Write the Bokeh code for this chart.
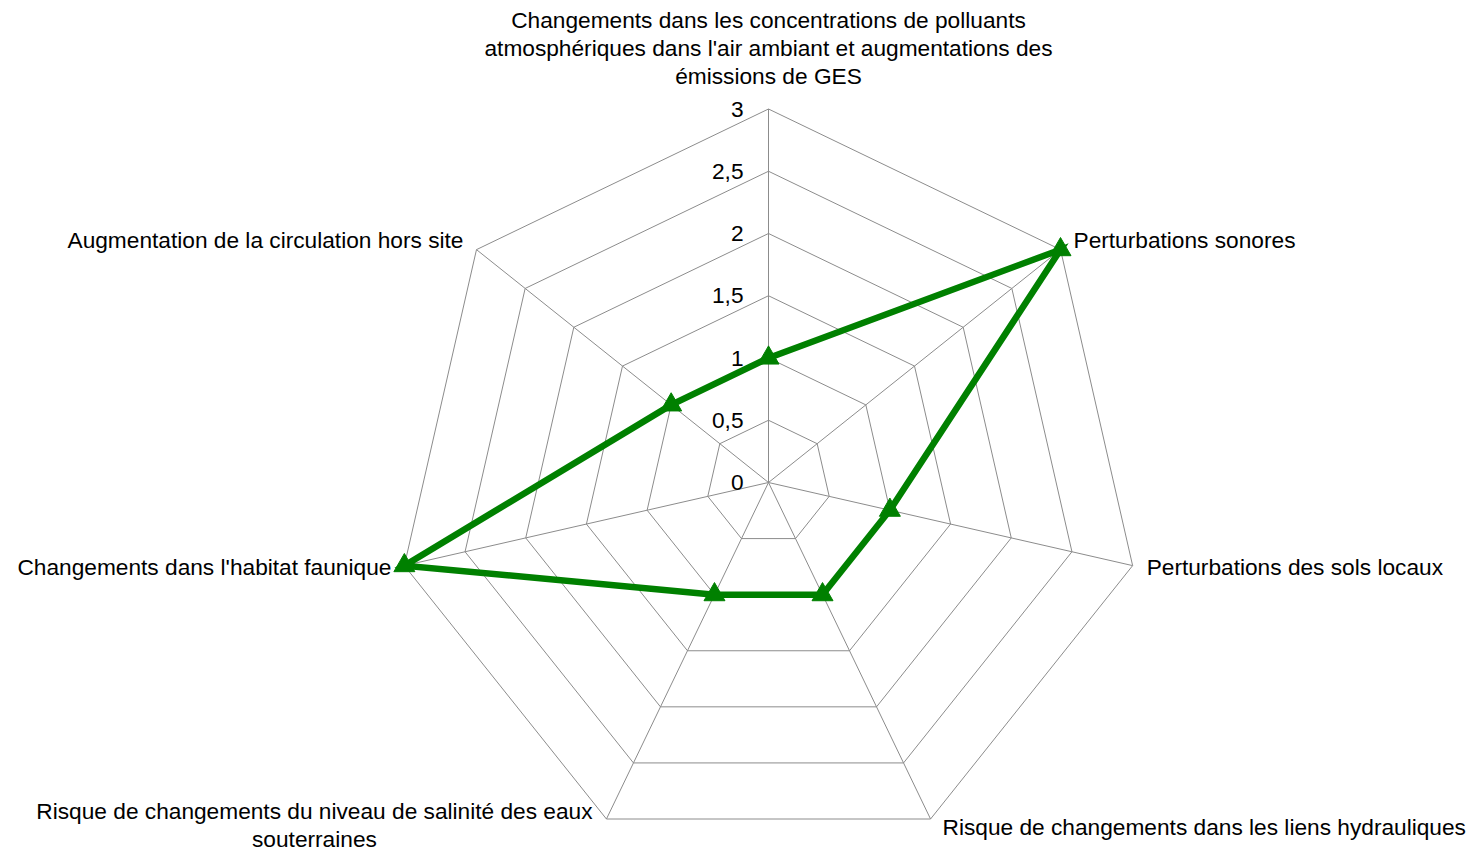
import numpy as np
from bokeh.plotting import figure
from bokeh.models import Range1d
from bokeh.core.properties import value
from bokeh.embed import file_html
from bokeh.resources import INLINE

categories = [
    "Changements dans les concentrations de polluants\natmosphériques dans l'air ambiant et augmentations des\némissions de GES",
    "Perturbations sonores",
    "Perturbations des sols locaux",
    "Risque de changements dans les liens hydrauliques",
    "Risque de changements du niveau de salinité des eaux\nsouterraines",
    "Changements dans l'habitat faunique",
    "Augmentation de la circulation hors site",
]
values = [1, 3, 1, 1, 1, 3, 1]
ticks = [0, 0.5, 1, 1.5, 2, 2.5, 3]
tick_labels = ["0", "0,5", "1", "1,5", "2", "2,5", "3"]

W, H = 1475, 851
CX, CY = 768, 482
S = 124.5  # px per unit
FONT = value("Liberation Sans")
FS = "22.7px"

n = len(categories)
ang = np.pi / 2 - 2 * np.pi * np.arange(n) / n
cosA, sinA = np.cos(ang), np.sin(ang)
rmax = ticks[-1]

p = figure(width=W, height=H, output_backend="svg", toolbar_location=None,
           x_range=Range1d(-CX / S, (W - CX) / S),
           y_range=Range1d(-(H - CY) / S, CY / S),
           min_border=0, outline_line_color=None)
p.axis.visible = False
p.grid.visible = False
p.background_fill_color = "white"
p.border_fill_color = "white"

grid_col = "#8c8c8c"
# rings
ring_xs, ring_ys = [], []
for t in ticks[1:]:
    ring_xs.append(list(np.append(t * cosA, t * cosA[0])))
    ring_ys.append(list(np.append(t * sinA, t * sinA[0])))
p.multi_line(ring_xs, ring_ys, line_color=grid_col, line_width=1)
# spokes
p.multi_line([[0, rmax * c] for c in cosA], [[0, rmax * s] for s in sinA],
             line_color=grid_col, line_width=1)

# data
v = np.array(values, dtype=float)
dx = v * cosA
dy = v * sinA
p.line(list(np.append(dx, dx[0])), list(np.append(dy, dy[0])),
       line_color="#008000", line_width=6.5, line_join="miter")
p.scatter(list(dx), list(dy), marker="triangle", size=21,
          fill_color="#008000", line_color="#008000")

# tick labels
p.text(x=[0] * len(ticks), y=ticks, text=tick_labels, x_offset=-25,
       text_align="right", text_baseline="middle",
       text_font=FONT, text_font_size=FS, text_color="black")

# category labels
label_style = [(0, -61, "center"), (13, -10, "left"), (14, 1, "left"),
               (12, 8, "left"), (-292, 6, "center"), (-13, 1, "right"),
               (-13, -10, "right")]
for i, cat in enumerate(categories):
    ox, oy, al = label_style[i]
    p.text(x=[rmax * cosA[i]], y=[rmax * sinA[i]], text=[cat],
           x_offset=ox, y_offset=oy, text_align=al, text_baseline="middle",
           text_line_height=1.085,
           text_font=FONT, text_font_size=FS, text_color="black")

open("out.html", "w").write(file_html(p, INLINE))
